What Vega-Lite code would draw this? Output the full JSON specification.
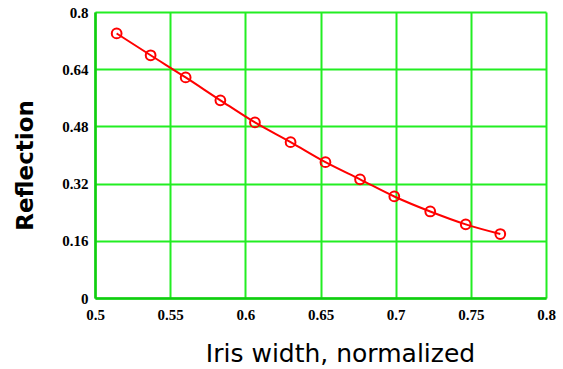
{
  "$schema": "https://vega.github.io/schema/vega-lite/v6.json",
  "autosize": {"type": "none"},
  "width": 451,
  "height": 286,
  "padding": {"left": 95, "top": 12, "right": 17, "bottom": 71},
  "background": "white",
  "config": {
    "view": {"stroke": null},
    "axis": {
      "labelFont": "Liberation Serif",
      "labelFontWeight": "bold",
      "labelFontSize": 15,
      "labelColor": "black",
      "labelExpr": "'' + datum.value",
      "gridColor": "#22ee22",
      "gridWidth": 2,
      "gridOpacity": 1,
      "domainColor": "#11cc11",
      "domainWidth": 2.5,
      "ticks": false,
      "titleColor": "black",
      "titleFont": "DejaVu Sans"
    }
  },
  "data": {
    "values": [
      {"w": 0.5144, "r": 0.740},
      {"w": 0.5370, "r": 0.679},
      {"w": 0.5603, "r": 0.617},
      {"w": 0.5834, "r": 0.553},
      {"w": 0.6064, "r": 0.491},
      {"w": 0.6301, "r": 0.436},
      {"w": 0.6533, "r": 0.380},
      {"w": 0.6763, "r": 0.332},
      {"w": 0.6991, "r": 0.284},
      {"w": 0.7230, "r": 0.242},
      {"w": 0.7466, "r": 0.206},
      {"w": 0.7696, "r": 0.179}
    ]
  },
  "encoding": {
    "x": {
      "field": "w", "type": "quantitative",
      "scale": {"domain": [0.5, 0.8], "nice": false, "zero": false},
      "axis": {
        "values": [0.5, 0.55, 0.6, 0.65, 0.7, 0.75, 0.8],
        "labelPadding": 9,
        "labelFlush": false,
        "labelOverlap": false,
        "title": "Iris width, normalized",
        "titleFontSize": 25,
        "titleFontWeight": "normal",
        "titlePadding": 19,
        "titleX": 245
      }
    },
    "y": {
      "field": "r", "type": "quantitative",
      "scale": {"domain": [0, 0.8], "nice": false},
      "axis": {
        "values": [0, 0.16, 0.32, 0.48, 0.64, 0.8],
        "labelPadding": 7,
        "labelFlush": false,
        "labelOverlap": false,
        "title": "Reflection",
        "titleFontSize": 23,
        "titleFontWeight": "bold",
        "titlePadding": 24,
        "titleY": 153
      }
    }
  },
  "layer": [
    {
      "mark": {"type": "line", "color": "#ff0000", "strokeWidth": 2, "interpolate": "monotone"}
    },
    {
      "mark": {"type": "point", "shape": "circle", "filled": false, "color": "#ff0000", "strokeWidth": 2, "size": 95, "opacity": 1}
    }
  ]
}
